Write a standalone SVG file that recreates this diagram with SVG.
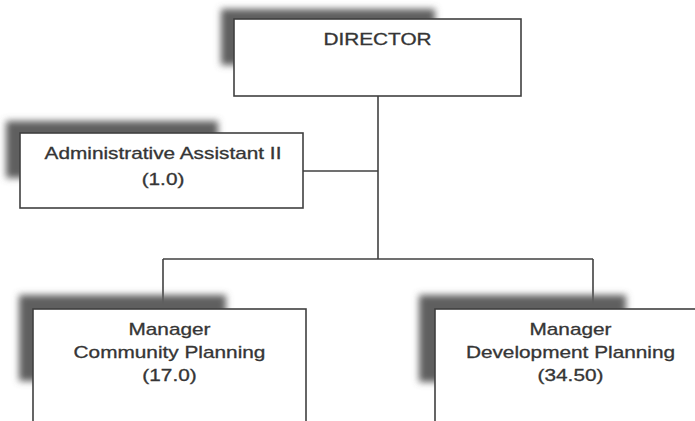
<svg xmlns="http://www.w3.org/2000/svg" width="695" height="421" viewBox="0 0 695 421">
  <style>
    .box { fill: #ffffff; stroke: #404040; stroke-width: 1.6; }
    .shadow { fill: #5e5e5e; filter: url(#soft); }
    .lbl { font-family: "Liberation Sans", Arial, sans-serif; font-size: 16px; fill: #353535; stroke: #353535; stroke-width: 0.3; text-anchor: middle; }
    .conn { stroke: #404040; stroke-width: 1.6; fill: none; }
  </style>
  <defs>
    <filter id="soft" x="-20%" y="-20%" width="140%" height="140%">
      <feGaussianBlur stdDeviation="3.5"/>
    </filter>
  </defs>

  <rect width="695" height="421" fill="#ffffff"/>

  <!-- connectors -->
  <g id="connectors">
    <line class="conn" x1="378" y1="96" x2="378" y2="259"/>
    <line class="conn" x1="303" y1="171" x2="378" y2="171"/>
    <line class="conn" x1="163" y1="259" x2="593" y2="259"/>
    <line class="conn" x1="163" y1="259" x2="163" y2="309"/>
    <line class="conn" x1="593" y1="259" x2="593" y2="309"/>
  </g>

  <!-- DIRECTOR -->
  <g id="director">
    <rect class="shadow" x="221" y="9" width="214" height="56"/>
    <rect class="box" x="234" y="19" width="287" height="77"/>
    <text class="lbl" transform="translate(377.5,45) scale(1.3,1)" x="0" y="0">DIRECTOR</text>
  </g>

  <!-- Administrative Assistant II -->
  <g id="admin-assistant">
    <rect class="shadow" x="6" y="121" width="212" height="57"/>
    <rect class="box" x="20" y="133" width="283" height="75"/>
    <text class="lbl" transform="translate(163,159) scale(1.3,1)" x="0" y="0">Administrative Assistant II</text>
    <text class="lbl" transform="translate(163,185) scale(1.3,1)" x="0" y="0">(1.0)</text>
  </g>

  <!-- Manager Community Planning -->
  <g id="community-planning">
    <rect class="shadow" x="19" y="295" width="207" height="86"/>
    <rect class="box" x="33" y="309" width="273" height="125"/>
    <text class="lbl" transform="translate(169.5,335) scale(1.3,1)" x="0" y="0">Manager</text>
    <text class="lbl" transform="translate(169.5,358) scale(1.3,1)" x="0" y="0">Community Planning</text>
    <text class="lbl" transform="translate(169.5,381) scale(1.3,1)" x="0" y="0">(17.0)</text>
  </g>

  <!-- Manager Development Planning -->
  <g id="development-planning">
    <rect class="shadow" x="419" y="295" width="207" height="87"/>
    <rect class="box" x="435" y="309" width="272" height="125"/>
    <text class="lbl" transform="translate(570.5,335) scale(1.3,1)" x="0" y="0">Manager</text>
    <text class="lbl" transform="translate(570.5,358) scale(1.3,1)" x="0" y="0">Development Planning</text>
    <text class="lbl" transform="translate(570.5,381) scale(1.3,1)" x="0" y="0">(34.50)</text>
  </g>
</svg>
